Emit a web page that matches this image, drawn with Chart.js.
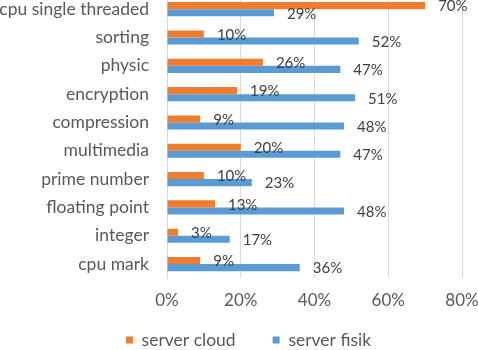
<!DOCTYPE html>
<html>
<head>
<meta charset="utf-8">
<script src="https://cdn.jsdelivr.net/npm/chart.js@4/dist/chart.umd.min.js"></script>
<style>
  html, body { margin: 0; padding: 0; background: #fff; overflow: hidden; }
  #myChart { display: block; margin-top: -5px; }
</style>
</head>
<body>
<canvas id="myChart" width="478" height="355"></canvas>
<script>
var categories = ['cpu single threaded', 'sorting', 'physic', 'encryption', 'compression',
                  'multimedia', 'prime number', 'floating point', 'integer', 'cpu mark'];
var serverCloud = [70, 10, 26, 19, 9, 20, 10, 13, 3, 9];
var serverFisik = [29, 52, 47, 51, 48, 47, 23, 48, 17, 36];
var xTicks = [0, 20, 40, 60, 80];

var FONT = 'Lato, "Open Sans", sans-serif';

// draws the value next to each bar, like the excel "outside end" labels
var barLabels = {
  id: 'barLabels',
  afterDatasetsDraw: function(chart) {
    var ctx = chart.ctx;
    ctx.save();
    ctx.font = '15px ' + FONT;
    ctx.fillStyle = '#404040';
    ctx.textAlign = 'left';
    ctx.textBaseline = 'middle';
    chart.data.datasets.forEach(function(ds, i) {
      chart.getDatasetMeta(i).data.forEach(function(bar, j) {
        ctx.fillText(ds.data[j] + '%', bar.x + 13, bar.y + 1);
      });
    });
    ctx.restore();
  }
};

// scales are squeezed to fit the layout, so don't clip their tick labels to the box
var noLabelClip = {
  id: 'noLabelClip',
  afterLayout: function(chart) {
    Object.keys(chart.scales).forEach(function(id) {
      chart.scales[id]._computeLabelArea = function() { return undefined; };
    });
  }
};

var ctx = document.getElementById('myChart').getContext('2d');
var myChart = new Chart(ctx, {
  type: 'bar',
  data: {
    labels: categories,
    datasets: [{
      label: 'server cloud',
      data: serverCloud,
      backgroundColor: '#ED7D31',
      barPercentage: 1.0,
      categoryPercentage: 0.5
    }, {
      label: 'server fisik',
      data: serverFisik,
      backgroundColor: '#5B9BD5',
      barPercentage: 1.0,
      categoryPercentage: 0.5
    }]
  },
  options: {
    indexAxis: 'y',
    responsive: false,
    animation: false,
    layout: { padding: { top: 0, left: 19, right: 0, bottom: -8.75 } },
    scales: {
      x: {
        min: 0,
        max: 80,
        afterBuildTicks: function(scale) {
          scale.ticks = xTicks.map(function(v) { return { value: v }; });
        },
        afterFit: function(scale) {
          scale.height = 16;
          scale.paddingLeft = 0;
          scale.paddingRight = 16;
        },
        grid: { color: '#d9d9d9', drawTicks: false },
        border: { display: false },
        ticks: {
          padding: 12,
          color: '#595959',
          font: { family: FONT, size: 17 },
          callback: function(v) { return v + '%'; }
        }
      },
      y: {
        grid: { display: false, drawTicks: true, tickLength: 18 },
        border: { display: true, color: '#d9d9d9' },
        afterFit: function(scale) {
          scale.width = 148;
          scale.paddingTop = 0;
          scale.paddingBottom = 0;
        },
        ticks: {
          padding: 0,
          autoSkip: false,
          color: '#595959',
          font: { family: FONT, size: 17.5 }
        }
      }
    },
    plugins: {
      legend: {
        position: 'bottom',
        labels: {
          boxWidth: 7,
          boxHeight: 7,
          padding: 37,
          color: '#595959',
          font: { family: FONT, size: 17.5 }
        }
      },
      tooltip: { enabled: false }
    }
  },
  plugins: [barLabels, noLabelClip]
});
</script>
</body>
</html>
